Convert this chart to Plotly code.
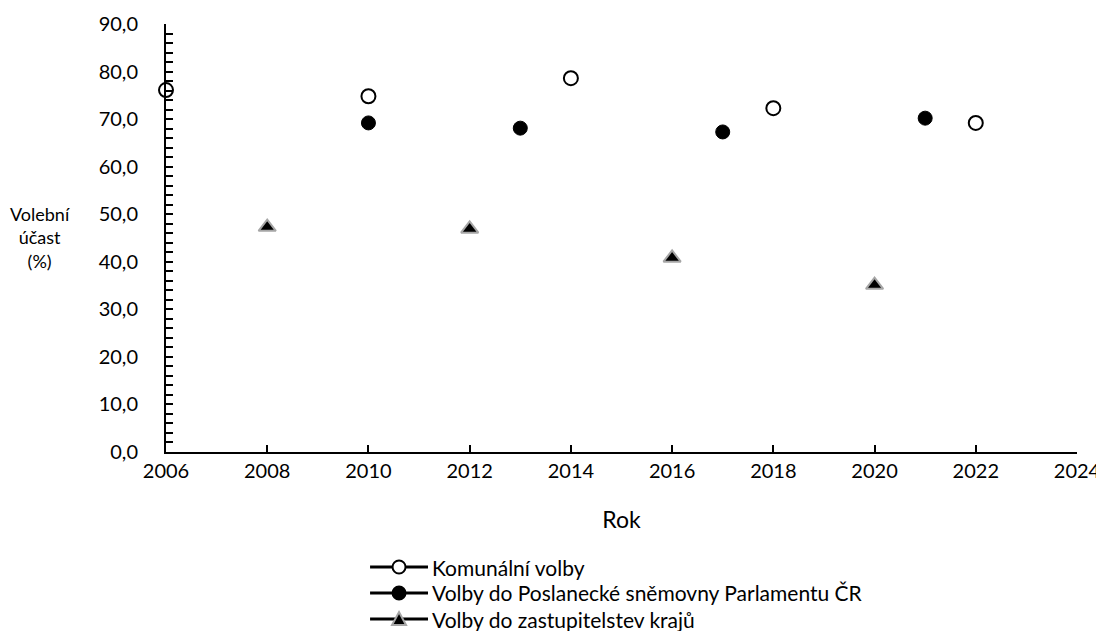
import plotly.graph_objects as go

# turnout values
kom_roky = [2006, 2010, 2014, 2018, 2022]
kom_ucast = [76.1, 74.8, 78.6, 72.3, 69.2]

psp_roky = [2010, 2013, 2017, 2021]
psp_ucast = [69.2, 68.1, 67.3, 70.2]

kraje_roky = [2008, 2012, 2016, 2020]
kraje_ucast = [47.3, 46.9, 40.8, 35.1]

nazvy = ["Komunální volby",
         "Volby do Poslanecké sněmovny Parlamentu ČR",
         "Volby do zastupitelstev krajů"]

font = "Lato, Calibri, sans-serif"

fig = go.Figure()

styles = [
    dict(symbol="circle", size=14, color="white", line=dict(color="black", width=2)),
    dict(symbol="circle", size=14, color="black", line=dict(color="black", width=1)),
    dict(symbol="triangle-up", size=15, color="black", line=dict(color="#a6a6a6", width=2)),
]
data = [(kom_roky, kom_ucast), (psp_roky, psp_ucast), (kraje_roky, kraje_ucast)]

for (x, y), name, m in zip(data, nazvy, styles):
    fig.add_trace(go.Scatter(x=x, y=y, mode="markers", marker=m, name=name,
                             showlegend=False, cliponaxis=False))

# hand-made legend below the plot (paper units, key symbols as pixel-sized shapes)
leg_x0, leg_x1 = 0.224, 0.2876
leg_xm = (leg_x0 + leg_x1) / 2
leg_y = [-0.2687, -0.3294, -0.3902]
for i, (yy, name) in enumerate(zip(leg_y, nazvy)):
    fig.add_shape(type="line", xref="paper", yref="paper", x0=leg_x0, x1=leg_x1,
                  y0=yy, y1=yy, line=dict(color="black", width=3))
    if i < 2:
        fig.add_shape(type="circle", xref="paper", yref="paper",
                      xsizemode="pixel", ysizemode="pixel",
                      xanchor=leg_xm, yanchor=yy, x0=-6.5, x1=6.5, y0=-6.5, y1=6.5,
                      fillcolor="white" if i == 0 else "black",
                      line=dict(color="black", width=2))
    else:
        fig.add_shape(type="path", xref="paper", yref="paper",
                      xsizemode="pixel", ysizemode="pixel",
                      xanchor=leg_xm, yanchor=yy, path="M-7,-6 L7,-6 L0,7 Z",
                      fillcolor="black", line=dict(color="#a6a6a6", width=2))
    fig.add_annotation(text=name, xref="paper", yref="paper", x=leg_x1 + 0.002, y=yy,
                       xanchor="left", yanchor="middle", showarrow=False,
                       font=dict(size=21))

fig.update_layout(
    width=1104, height=631,
    margin=dict(l=158, r=35, t=16, b=187),
    paper_bgcolor="white", plot_bgcolor="white",
    separators=", ",
    font=dict(family=font, size=20, color="black"),
    showlegend=False,
    xaxis=dict(range=[2006, 2024], dtick=2, tick0=2006,
               showgrid=False, showline=True, linecolor="black", linewidth=2,
               ticks="inside", ticklen=7, tickwidth=2, tickcolor="black",
               ticklabelstandoff=0, automargin=False,
               title=dict(text="Rok", font=dict(size=23), standoff=31),
               zeroline=False),
    yaxis=dict(range=[0, 90], dtick=10, tickformat=".1f",
               showgrid=False, showline=True, linecolor="black", linewidth=2,
               ticks="inside", ticklen=7, tickwidth=2, tickcolor="black",
               ticklabelstandoff=22, automargin=False,
               minor=dict(dtick=2, ticks="inside", ticklen=7, tickwidth=2,
                          tickcolor="black", showgrid=False),
               zeroline=False),
)

fig.add_annotation(text="Volební<br>účast<br>(%)", xref="paper", yref="paper",
                   x=-0.138, y=0.502, xanchor="center", yanchor="middle",
                   showarrow=False, font=dict(size=18), align="center")

fig.write_html("out.html")
